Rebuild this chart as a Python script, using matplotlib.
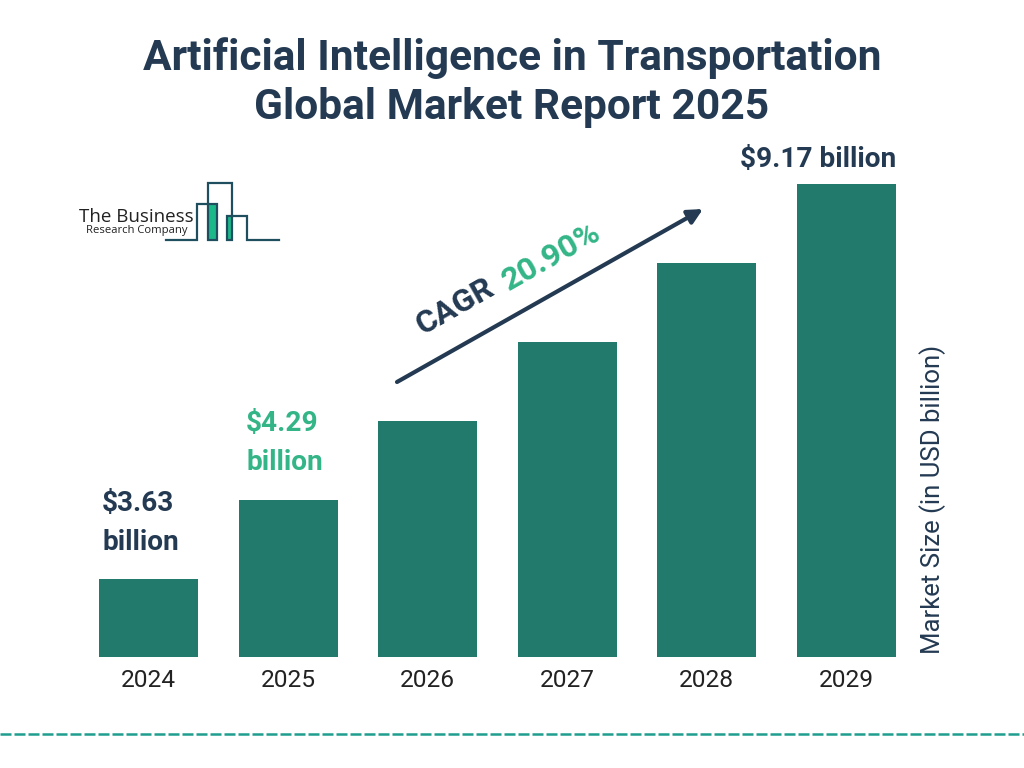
import matplotlib
matplotlib.use('Agg')
import matplotlib.pyplot as plt
from matplotlib.patches import Rectangle

W, H = 1024, 768

years = ['2024', '2025', '2026', '2027', '2028', '2029']
bar_heights = [78, 157, 236, 315, 394, 473]
value_labels = ['$3.63\nbillion', '$4.29\nbillion', '', '', '', '$9.17 billion']

DARK = '#233a52'
GREEN = '#33b587'
BAR = '#217a6b'
LOGO = '#1f4e5f'
DASH = '#1f9e8f'

plt.rcParams['font.family'] = ['Roboto', 'DejaVu Sans']
plt.rcParams['text.parse_math'] = False

fig = plt.figure(figsize=(W / 100, H / 100), dpi=100, facecolor='white')


def px(size):
    return size * 72 / 100


# bars
ax = fig.add_axes([79.1 / W, 1 - 657 / H, 837 / W, 517 / H])
ax.bar(range(len(years)), bar_heights, width=0.71, color=BAR)
ax.set_xlim(-0.5, 5.5)
ax.set_ylim(0, 517)
ax.set_xticks(range(len(years)), years, fontsize=px(24.5), color='#222222')
ax.tick_params(axis='x', length=0, pad=8.5)
ax.set_yticks([])
for s in ax.spines.values():
    s.set_visible(False)
ax.patch.set_alpha(0)

# overlay in pixel coordinates for text and decoration
ov = fig.add_axes([0, 0, 1, 1])
ov.set_xlim(0, W)
ov.set_ylim(H, 0)
ov.axis('off')
ov.patch.set_alpha(0)

ov.text(512, 58, 'Artificial Intelligence in Transportation', ha='center', va='center',
        fontsize=px(42.5), fontweight='bold', color=DARK)
ov.text(512, 108, 'Global Market Report 2025', ha='center', va='center',
        fontsize=px(42.5), fontweight='bold', color=DARK)

# value labels
ov.text(102, 503, value_labels[0].split('\n')[0], fontsize=px(28), fontweight='bold', color=DARK, va='center')
ov.text(102, 542, value_labels[0].split('\n')[1], fontsize=px(28), fontweight='bold', color=DARK, va='center')
ov.text(246, 423, value_labels[1].split('\n')[0], fontsize=px(28), fontweight='bold', color=GREEN, va='center')
ov.text(246, 462, value_labels[1].split('\n')[1], fontsize=px(28), fontweight='bold', color=GREEN, va='center')
ov.text(818, 160, value_labels[5], ha='center', va='center', fontsize=px(28), fontweight='bold', color=DARK)

# axis title
ov.text(933, 499, 'Market Size (in USD billion)', rotation=90, ha='center', va='center',
        fontsize=px(25.7), color=DARK)

# CAGR arrow
ov.annotate('', xy=(703, 209), xytext=(397, 382),
            arrowprops=dict(arrowstyle='-|>', color=DARK, lw=3, mutation_scale=22, shrinkA=0, shrinkB=0))
ov.text(455, 306, 'CAGR', rotation=29.5, rotation_mode='anchor', ha='center', va='center',
        fontsize=px(32), fontweight='bold', color=DARK)
ov.text(551, 257, '20.90%', rotation=29.5, rotation_mode='anchor', ha='center', va='center',
        fontsize=px(32.5), fontweight='bold', color=GREEN)

# logo
ov.add_patch(Rectangle((208, 204), 9, 36, color='#1db88a', lw=0))
ov.add_patch(Rectangle((227, 216), 5, 24, color='#1db88a', lw=0))
ov.plot([166, 197, 197, 217, 217, 208, 208, 232, 232, 227, 227, 247, 247, 279],
        [240, 240, 204, 204, 240, 240, 183, 183, 240, 240, 216, 216, 240, 240],
        color=LOGO, lw=1.6, solid_joinstyle='miter')
ov.text(136, 217, 'The Business', ha='center', va='center', fontsize=px(18.8), color='#222222',
        family=['Open Sans', 'DejaVu Sans'])
ov.text(136.5, 230, 'Research Company', ha='center', va='center', fontsize=px(11.3), color='#222222',
        family=['Open Sans', 'DejaVu Sans'])

# dashed footer rule
ov.plot([0, W], [734, 734], color=DASH, lw=1.8, dashes=(4.4, 1.2))

fig.savefig('out.png', dpi=100, facecolor='white')
